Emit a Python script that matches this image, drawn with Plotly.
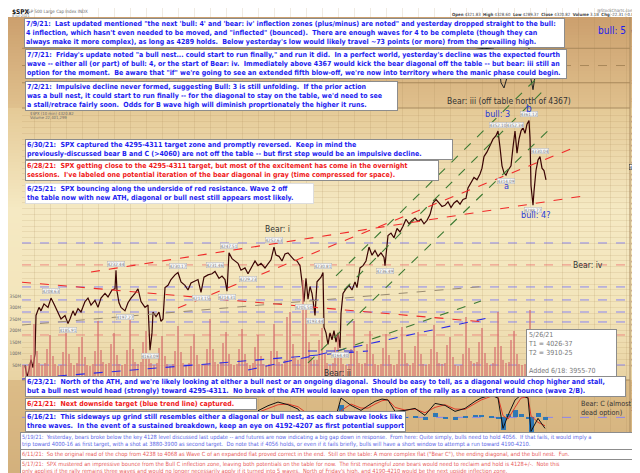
import plotly.graph_objects as go

W, H = 640, 473
FONT = "Liberation Sans Narrow, Arial Narrow, DejaVu Sans Condensed, Liberation Sans, sans-serif"

# ---------------- data ----------------
# t = position of the 10-min bar along the time axis (0 = left edge of the plot)
t_price = [3, 5, 7, 9, 11, 13, 14, 17, 19, 22, 26, 29, 32, 36, 39, 43, 46, 48, 51, 53,
           56, 59, 63, 66, 69, 73, 76, 79, 83, 86, 90, 93, 94, 95, 97, 99, 103, 106, 109, 113,
           116, 119, 123, 126, 128, 130, 131, 134, 137, 139, 141, 143, 146, 149, 153, 156, 159, 163, 166, 169,
           173, 176, 179, 182, 186, 190, 193, 197, 200, 203, 205, 207, 210, 213, 216, 219, 223, 226, 230, 233,
           236, 239, 243, 246, 249, 252, 254, 257, 260, 263, 266, 269, 272, 275, 278, 280, 282, 284, 286, 288,
           290, 292, 293, 295, 297, 299, 301, 302, 304, 306, 308, 310, 312, 314, 316, 318, 319, 321, 324, 327,
           330, 333, 335, 338, 341, 344, 347, 350, 353, 356, 359, 362, 363, 366, 369, 372, 375, 378, 381, 384,
           387, 390, 393, 396, 399, 402, 405, 408, 411, 414, 417, 420, 423, 426, 429, 432, 435, 438, 441, 444,
           446, 449, 452, 455, 458, 460, 462, 465, 468, 471, 474, 476, 478, 480, 482, 484, 486, 489, 491, 493,
           495, 497, 499, 501, 503, 505, 507, 508, 509, 510, 511, 512, 514, 516, 518, 520, 522, 524]
spx = [4150, 4140, 4146, 4155, 4148, 4160, 4193, 4200, 4197, 4203, 4200, 4208, 4203, 4195, 4190, 4193, 4186, 4190, 4197, 4193,
       4199, 4196, 4205, 4208, 4202, 4206, 4200, 4208, 4212, 4209, 4215, 4216, 4232, 4214, 4204, 4200, 4197, 4204, 4208, 4212,
       4216, 4205, 4200, 4202, 4163, 4178, 4196, 4192, 4196, 4188, 4190, 4217, 4219, 4224, 4228, 4230, 4222, 4219, 4215, 4221,
       4223, 4224, 4213, 4226, 4228, 4229, 4231, 4225, 4227, 4224, 4214, 4247, 4242, 4240, 4238, 4232, 4234, 4229, 4236, 4240,
       4236, 4238, 4234, 4238, 4241, 4252, 4245, 4244, 4240, 4246, 4247, 4244, 4241, 4240, 4236, 4222, 4205, 4225, 4207, 4218,
       4212, 4200, 4193, 4222, 4224, 4226, 4230, 4183, 4178, 4168, 4178, 4172, 4180, 4170, 4178, 4165, 4195, 4212, 4216, 4219,
       4215, 4222, 4217, 4234, 4236, 4240, 4252, 4245, 4249, 4244, 4247, 4243, 4236, 4262, 4264, 4260, 4268, 4265, 4270, 4276,
       4272, 4275, 4277, 4274, 4276, 4272, 4275, 4280, 4290, 4293, 4290, 4287, 4288, 4291, 4286, 4290, 4292, 4289, 4293, 4294,
       4303, 4308, 4312, 4310, 4315, 4320, 4330, 4334, 4340, 4345, 4348, 4352, 4338, 4322, 4316, 4314, 4318, 4322, 4338, 4352,
       4333, 4345, 4352, 4355, 4350, 4358, 4361, 4346, 4305, 4295, 4288, 4300, 4318, 4327, 4330, 4320, 4318, 4310]

# volume (millions), six readings per session: open, early, midday x3, close
volume = [150, 80, 50, 45, 55, 95,    230, 110, 60, 50, 58, 120,   180, 90, 55, 48, 52, 105,
          210, 100, 58, 50, 60, 130,  170, 85, 52, 46, 55, 110,    240, 115, 62, 55, 60, 140,
          190, 95, 55, 50, 54, 115,   260, 120, 65, 55, 62, 150,   200, 100, 58, 52, 57, 125,
          175, 90, 54, 48, 53, 110,   220, 105, 60, 52, 58, 135,   185, 92, 55, 50, 55, 120,
          250, 118, 64, 56, 62, 145,  195, 96, 56, 50, 56, 118,    205, 98, 57, 51, 57, 128,
          180, 90, 54, 49, 54, 112,   230, 110, 62, 55, 70, 260,   280, 140, 80, 70, 75, 420,
          300, 150, 85, 70, 72, 160,  210, 100, 58, 52, 57, 130,   190, 95, 55, 50, 55, 118,
          240, 112, 60, 54, 58, 140,  200, 98, 56, 50, 55, 125,    185, 92, 54, 49, 54, 115,
          215, 104, 58, 52, 57, 132,  195, 96, 55, 50, 55, 120,    225, 108, 60, 53, 58, 138,
          170, 85, 50, 45, 50, 100,   260, 125, 66, 58, 62, 150,   210, 102, 58, 52, 57, 130,
          280, 135, 70, 60, 64, 160,  200, 98, 56, 50, 55, 124,    290, 140, 72, 62, 66, 170]
vol_t = [d * 16 - 4 + k * 16 / 6 for d in range(33) for k in range(6)]

# RSI (top panel), only the late part shows between the notes
t_rsi = [366, 378, 390, 402, 414, 426, 438, 450, 462, 472, 476, 479, 482, 486, 492, 498, 504, 507, 509, 511, 514, 518, 522, 524]
rsi = [62, 66, 60, 64, 68, 58, 62, 68, 70, 69, 60, 30, 24, 40, 62, 58, 66, 70, 34, 22, 45, 52, 44, 40]

# MACD (bottom panel)
t_macd = [236, 246, 256, 266, 276, 286, 296, 304, 311, 319, 329, 339, 346, 353, 360, 366, 373, 383,
          393, 403, 413, 423, 433, 443, 453, 459, 469, 476, 481, 486, 493, 499, 506, 509, 516, 523]
macd = [2.0, 3.5, 4.6, 3.8, 2.5, -1.5, -4.0, -5.5, -3.0, 5.8, 3.6, 2.1, 3.5, 4.8, 5.5, 5.2, 1.8, 2.1,
        2.7, 0.6, 4.2, 3.6, 1.8, 2.7, 4.8, 5.8, 6.7, 5.8, -3.3, 0.6, 5.2, 6.7, 5.8, -4.2, -0.3, -3.3]
signal = [1.5, 2.6, 3.8, 4.0, 3.2, 1.0, -2.0, -4.0, -4.0, 2.0, 4.0, 2.8, 2.8, 4.0, 5.0, 5.3, 3.0, 2.2,
          2.5, 1.4, 3.0, 3.8, 2.5, 2.4, 4.0, 5.2, 6.3, 6.2, 0.5, -0.5, 3.0, 5.8, 6.2, 0.5, -1.5, -2.5]
hist = [m - s for m, s in zip(macd, signal)]

# horizontal levels
purple_levels = [4255.5, 4217.6, 4206.4, 4196.0, 4187.4, 4150.3]
red_levels = [4236.6, 4176.2]

# trend lines ((t0, p0), (t1, p1))
red_lines = [((0, 4221.7), (463, 4187.4)), ((69, 4230.5), (561, 4296.0)), ((156, 4199.5), (549, 4336.6))]
green_lines = [((314, 4227.1), (513, 4396.0)), ((322, 4215.0), (522, 4387.4)),
               ((286, 4152.1), (531, 4356.4)), ((316, 4162.4), (459, 4205.5))]
gray_lines = [((0, 4184.8), (466, 4218.4))]
blue_lines = [((0, 4138.3), (346, 4162.4)), ((226, 4146.0), (466, 4190.9)), ((286, 4162.4), (339, 4162.4))]

# small price tags on swing points (t, value, above?)
tags = [(29, 4208.63, 1), (46, 4185.91, 0), (94, 4232.44, 1), (103, 4197.27, 0), (128, 4163.09, 0),
        (156, 4230.17, 1), (179, 4213.15, 0), (193, 4231.46, 1), (205, 4214.31, 0), (207, 4247.51, 1),
        (226, 4229.23, 0), (252, 4252.63, 1), (282, 4205.50, 0), (293, 4193.44, 0), (301, 4230.81, 1),
        (318, 4164.40, 0), (363, 4236.49, 0), (476, 4352.10, 1), (484, 4314.09, 0), (493, 4352.34, 1),
        (507, 4361.12, 1), (511, 4288.77, 0), (518, 4330.04, 1)]

price_ticks = list(range(4150, 4370, 5))
vol_ticks = [50, 100, 150, 200, 250, 300, 350]
rsi_ticks = [10, 30, 70, 90]
macd_ticks = [2.5, 5.0, 7.5, 10.0]

# ---------------- figure ----------------
fig = go.Figure()

fig.add_trace(go.Bar(x=vol_t, y=volume, yaxis="y2", width=2.3,
                     marker=dict(color="rgba(214,110,110,0.62)", line=dict(width=0))))
fig.add_trace(go.Scatter(x=t_price, y=spx, mode="lines", line=dict(color="#3a0404", width=1.2)))
fig.add_trace(go.Scatter(x=t_rsi, y=rsi, yaxis="y3", mode="lines", line=dict(color="#222", width=1)))
fig.add_trace(go.Bar(x=t_macd, y=hist, yaxis="y4", width=5, marker=dict(color="#2f78b4", line=dict(width=0))))
fig.add_trace(go.Scatter(x=t_macd, y=signal, yaxis="y4", mode="lines", line=dict(color="#e03a2a", width=1)))
fig.add_trace(go.Scatter(x=t_macd, y=macd, yaxis="y4", mode="lines", line=dict(color="#111", width=1)))

shapes = []


def px(x):
    return x / W


def py(y):
    return 1 - y / H


def hexrgb(c):
    return tuple(int(c[i:i + 2], 16) for i in (1, 3, 5))


def gradient(y0, y1, c0, c1, step=3):
    a, b = hexrgb(c0), hexrgb(c1)
    y = y0
    while y < y1:
        f = (y - y0) / max(1, (y1 - y0))
        col = "rgb(%d,%d,%d)" % tuple(round(a[i] + (b[i] - a[i]) * f) for i in range(3))
        shapes.append(dict(type="rect", xref="paper", yref="paper", x0=0, x1=1,
                           y0=py(min(y + step, y1)), y1=py(y), fillcolor=col, line=dict(width=0), layer="below"))
        y += step


gradient(9, 100, "#cca06e", "#e0c18e")
gradient(100, 200, "#e5ca97", "#f5e9c3")
gradient(200, 300, "#f5e9c3", "#f3e5bb")
gradient(300, 372, "#f3e5bb", "#e8d2a2")
gradient(372, 473, "#dcbc87", "#d2af7b")

# panel separators and right axis line
for yy in (100, 372):
    shapes.append(dict(type="line", xref="paper", yref="paper", x0=px(14), x1=px(622), y0=py(yy), y1=py(yy),
                       line=dict(color="#a88a60", width=1), layer="below"))
shapes.append(dict(type="line", xref="paper", yref="paper", x0=px(622), x1=px(622), y0=py(9), y1=0,
                   line=dict(color="#a88a60", width=1), layer="below"))

# RSI guide lines
for lv, dash in ((70, "solid"), (30, "solid"), (50, "dash")):
    shapes.append(dict(type="line", xref="x domain", yref="y3", x0=0, x1=1, y0=lv, y1=lv,
                       line=dict(color="#a8885a", width=1, dash=dash), layer="below"))
# MACD zero
shapes.append(dict(type="line", xref="x domain", yref="y4", x0=0, x1=1, y0=0, y1=0,
                   line=dict(color="#8c86f0", width=1, dash="dash"), layer="below"))

for lv in purple_levels:
    shapes.append(dict(type="line", xref="x domain", yref="y", x0=0, x1=1, y0=lv, y1=lv,
                       line=dict(color="#8a86f2", width=1, dash="dash"), layer="below"))
for lv in red_levels:
    shapes.append(dict(type="line", xref="x domain", yref="y", x0=0, x1=1, y0=lv, y1=lv,
                       line=dict(color="#ee8a80", width=1, dash="dash"), layer="below"))


def trend(lines, color, dash="dash"):
    for (a, b) in lines:
        shapes.append(dict(type="line", xref="x", yref="y", x0=a[0], y0=a[1], x1=b[0], y1=b[1],
                           line=dict(color=color, width=1.1, dash=dash), layer="above"))


trend(gray_lines, "#9a8c72")
trend(blue_lines, "#2a2ae8")
trend(green_lines, "#3c7a32")
trend(red_lines, "#f02a2a")

ann = []


def label(x, y, text, size, color, anchor="center", bold=False, family=FONT):
    if bold:
        text = "<b>" + text + "</b>"
    ann.append(dict(xref="paper", yref="paper", x=px(x), y=py(y), text=text, showarrow=False,
                    xanchor=anchor, yanchor="middle", font=dict(family=family, size=size, color=color)))


def box(x0, y0, x1, lines, color, size, bold=True, border="#8c8c8c", height=None):
    if bold:
        lines = ["<b>" + s + "</b>" for s in lines]
    a = dict(xref="paper", yref="paper", x=px(x0), y=py(y0), xanchor="left", yanchor="top",
             text="<br>".join(lines), showarrow=False, align="left", valign="top",
             width=x1 - x0 - 4, bgcolor="white", bordercolor=border,
             borderwidth=1, borderpad=1, font=dict(family=FONT, size=size, color=color))
    if height:
        a["height"] = height
    ann.append(a)


# price tags
for t, v, up in tags:
    ann.append(dict(xref="x", yref="y", x=t, y=v, text="%.2f" % v, showarrow=False,
                    yshift=6 if up else -6, bgcolor="#f6f6f6", bordercolor="#b0b0b0", borderwidth=0.5,
                    borderpad=0, font=dict(family=FONT, size=4.5, color="#777")))

BLUE = "#1c1cf0"
RED = "#f01818"
BS = 7.0   # size of the bold notes
SS = 5.7   # size of the older, plain notes

box(16, 10, 557, [
    '7/9/21:  Last updated mentioned "the next \'bull: 4\' and \'bear: iv\' inflection zones (plus/minus) are noted" and yesterday dropped straight to the bull:',
    '4 inflection, which hasn\'t even needed to be moved, and "inflected" (bounced).  There are enough waves for 4 to be complete (though they can',
    'always make it more complex), as long as 4289 holds.  Below yesterday\'s low would likely travel ~73 points (or more) from the prevailing high.'],
    BLUE, BS)
box(17, 41, 559, [
    '7/7/21:  Friday\'s update noted "a bull nest... could start to run finally," and run it did.  In a perfect world, yesterday\'s decline was the expected fourth',
    'wave -- either all (or part) of bull: 4, or the start of Bear: iv.  Immediately above 4367 would kick the bear diagonal off the table -- but bear: iii still an',
    'option for the moment.  Be aware that "if" we\'re going to see an extended fifth blow-off, we\'re now into territory where the manic phase could begin.'],
    BLUE, BS)
box(17, 73, 390, [
    '7/2/21:  Impulsive decline never formed, suggesting Bull: 3 is still unfolding.  If the prior action',
    'was a bull nest, it could start to run finally -- for the diagonal to stay on the table, we\'d need to see',
    'a stall/retrace fairly soon.  Odds for B wave high will diminish proprtionately the higher it runs.'],
    BLUE, BS)
box(17, 131, 445, [
    '6/30/21:  SPX captured the 4295-4311 target zone and promptly reversed.  Keep in mind the',
    'previously-discussed bear B and C (>4060) are not off the table -- but first step would be an impulsive decline.'],
    BLUE, BS)
box(17, 152, 431, [
    '6/28/21:  SPX getting close to the 4295-4311 target, but most of the excitement has come in the overnight',
    'sessions.  I\'ve labeled one potential iteration of the bear diagonal in gray (time compressed for space).'],
    RED, BS)
box(17, 175, 306, [
    '6/25/21:  SPX bouncing along the underside of red resistance. Wave 2 off',
    'the table now with new ATH, diagonal or bull nest still appears most likely.'],
    BLUE, BS, border="#dddddd")
box(518, 321, 609, ['5/26/21', 'T1 = 4026-37', 'T2 = 3910-25', '', 'Added 6/18: 3955-70', '(~3957.54)'],
    "#777777", 7.0, bold=False, height=47)
box(17, 368, 618, [
    '6/23/21:  North of the ATH, and we\'re likely looking at either a bull nest or an ongoing diagonal.  Should be easy to tell, as a diagonal would chop higher and stall,',
    'but a bull nest would head (strongly) toward 4295-4311.  No break of the ATH would leave open the option of the rally as a countertrend bounce (wave 2/B).'],
    BLUE, BS)
box(17, 390, 249, ['6/21/21:  Next downside target (blue trend line) captured.'], RED, BS)
box(17, 403, 398, [
    '6/16/21:  This sideways up grind still resembles either a diagonal or bull nest, as each subwave looks like',
    'three waves.  In the event of a sustained breakdown, keep an eye on 4192-4207 as first potential support.'],
    BLUE, BS)
box(12, 424, 628, [
    '5/19/21:  Yesterday, bears broke below the key 4128 level discussed last update -- and futures are now indicating a big gap down in response.  From here: Quite simply, bulls need to hold 4056.  If that fails, it would imply a',
    'trip toward 4000-16 as first target, with a shot at 3880-3900 as second target.  Do note that if 4056 holds, or even if it fails briefly, bulls will have a short window to attempt a run toward 4190-4210.'],
    "#5a66e6", SS, bold=False)
box(12, 441, 640, [
    '6/11/21:  So the original read of the chop from 4238 to 4068 as Wave C of an expanded flat proved correct in the end.  Still on the table: A more complex flat ("Bear C"), the ending diagonal, and the bull nest.  Fun.'],
    "#e85a5a", SS, bold=False)
box(12, 451, 640, [
    '5/17/21:  SPX mustered an impressive bounce from the Bull C inflection zone, leaving both potentials on the table for now.  The first meaningful zone bears would need to reclaim and hold is 4128+/-.  Note this',
    'only applies if the rally remains three waves and would no longer necessarily apply if it turned into 5 waves.  North of Friday\'s high, and 4190-4210 would be the next upside inflection zone.'],
    "#e85a5a", SS, bold=False)

# wave labels
label(604, 23, "bull: 5", 10, "#1c1cf0")
label(501, 93, "Bear: iii (off table north of 4367)", 8.5, "#333")
label(521, 101, "b", 10, "#2a3ad8")
label(489, 106, "bull: 3", 9, "#2a3ad8")
label(498, 178, "a", 9, "#2a3ad8")
label(528, 207, "bull: 4?", 9, "#2a3ad8")
label(269, 221, "Bear: i", 8.5, "#333")
label(580, 257, "Bear: iv", 8.5, "#333")
label(329, 365, "Bear: ii", 8.5, "#333")
label(571, 395, "Bear: C (almost a", 7.2, "#333", anchor="left")
label(571, 404, "dead option)", 7.2, "#333", anchor="left")

# header and small captions
label(2, 4, "$SPX", 6.5, "#111", anchor="left", bold=True)
label(15, 4, "S&P 500 Large Cap Index INDX", 4.5, "#666", anchor="left")
label(2, 8, "8-Jul-2021", 3.8, "#777", anchor="left")
label(587, 2.5, "@StockCharts.com", 4.3, "#777", anchor="left")
label(636, 7, "<b>Open</b> 4321.83  <b>High</b> 4328.60  <b>Low</b> 4289.37  <b>Close</b> 4320.82  <b>Volume</b> 3.1B  <b>Chg</b> -22.31 (-0.86%)",
      4.3, "#444", anchor="right")
label(20, 106, "$SPX (10 min) 4320.82", 4.2, "#666", anchor="left")
label(20, 110, "Volume 22,401,299", 4.2, "#666", anchor="left")

# boxed values on the right axis
for yref, val, txt in (("y", 4320.82, "4320.82"), ("y3", 50, "50.00"), ("y4", 0, "0.000")):
    ann.append(dict(xref="paper", yref=yref, x=px(639), y=val, xanchor="right", text=txt, showarrow=False,
                    bgcolor="white", bordercolor="#333", borderwidth=0.6, borderpad=0,
                    font=dict(family=FONT, size=4.5, color="#111")))

tickfont = dict(family=FONT, size=4.6, color="#666")
fig.update_layout(
    width=W, height=H, margin=dict(l=0, r=0, t=0, b=0),
    paper_bgcolor="white", plot_bgcolor="rgba(0,0,0,0)", showlegend=False, bargap=0,
    xaxis=dict(domain=[px(14), px(622)], range=[0, 608], showticklabels=False, zeroline=False,
               showgrid=True, gridcolor="rgba(160,130,80,0.16)", dtick=16, tick0=-4, ticks=""),
    yaxis=dict(domain=[0, 1], range=[4050.3, 4458.1], side="right", tickvals=price_ticks,
               ticktext=[str(v) for v in price_ticks], tickfont=tickfont, ticks="", zeroline=False,
               showgrid=True, gridcolor="rgba(160,130,80,0.14)"),
    yaxis2=dict(overlaying="y", side="left", range=[-454, 1602], tickvals=vol_ticks,
                ticktext=["%dM" % v for v in vol_ticks], tickfont=tickfont, showgrid=False, zeroline=False, ticks=""),
    yaxis3=dict(overlaying="y", side="right", range=[-431.7, 116.7], tickvals=rsi_ticks,
                tickfont=tickfont, showgrid=False, zeroline=False, ticks=""),
    yaxis4=dict(overlaying="y", side="right", range=[-19.1, 122.9], tickvals=macd_ticks,
                ticktext=["%.1f" % v for v in macd_ticks], tickfont=tickfont, showgrid=False, zeroline=False, ticks=""),
    shapes=shapes, annotations=ann,
)

fig.write_html("out.html")
